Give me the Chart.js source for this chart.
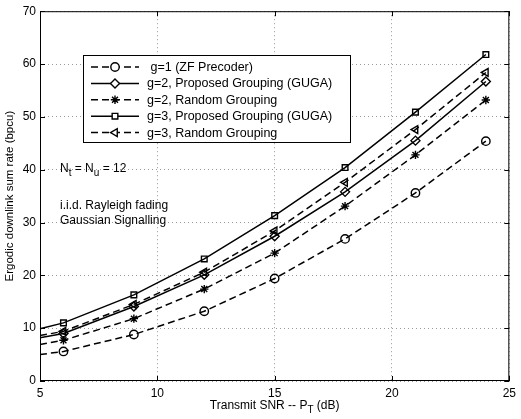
<!DOCTYPE html>
<html>
<head>
<meta charset="utf-8">
<script src="https://cdn.jsdelivr.net/npm/chart.js@4/dist/chart.umd.min.js"></script>
<style>
  html, body { margin: 0; padding: 0; background: #fff; }
  #wrap { width: 521px; height: 419px; position: relative; }
</style>
</head>
<body>
<div id="wrap"><canvas id="c" width="521" height="419"></canvas></div>
<script>
// ---- Data ----
const snrDb = [5, 6, 9, 12, 15, 18, 21, 24];           // x = 5 is the line's left edge (no marker)
const g1ZF        = [5.0, 5.6, 8.8, 13.2, 19.4, 26.9, 35.6, 45.4];
const g2GUGA      = [8.2, 9.0, 14.1, 20.1, 27.4, 35.8, 45.5, 56.7];
const g2Random    = [6.9, 7.7, 11.8, 17.4, 24.2, 33.1, 42.8, 53.2];
const g3GUGA      = [9.9, 11.0, 16.3, 23.1, 31.3, 40.4, 50.9, 61.8];
const g3Random    = [8.6, 9.4, 14.5, 20.6, 28.4, 37.6, 47.6, 58.4];
const seriesLabels = [' g=1 (ZF Precoder)', 'g=2, Proposed Grouping (GUGA)', 'g=2, Random Grouping',
                      'g=3, Proposed Grouping (GUGA)', 'g=3, Random Grouping'];
const xTicks = [5, 10, 15, 20, 25];
const yTicks = [0, 10, 20, 30, 40, 50, 60, 70];

const FONT = '"Liberation Sans", Arial, Helvetica, sans-serif';
const DASH = [7, 4];

function pts(vals) { return snrDb.map((x, i) => ({ x: x, y: vals[i] })); }
function radii(r) { return snrDb.map(x => x === 5 ? 0 : r); }

function ds(label, vals, style, dashed, r, rot) {
  return {
    label: label,
    data: pts(vals),
    borderColor: '#000',
    borderWidth: 1.5,
    borderDash: dashed ? DASH : [],
    pointStyle: style,
    pointRadius: radii(r),
    pointHoverRadius: radii(r),
    pointRotation: rot || 0,
    pointBorderColor: '#000',
    pointBackgroundColor: 'rgba(0,0,0,0)',
    pointBorderWidth: 1.4,
    tension: 0,
    fill: false,
    clip: false
  };
}

const datasets = [
  ds(seriesLabels[0], g1ZF, 'circle', true, 4.2),
  ds(seriesLabels[1], g2GUGA, 'rectRot', false, 4.5),
  ds(seriesLabels[2], g2Random, 'star', true, 4.2),
  ds(seriesLabels[3], g3GUGA, 'rect', false, 4),
  ds(seriesLabels[4], g3Random, 'triangle', true, 4.5, -90)
];

function drawSubText(ctx, parts, x, y, align, size) {
  const base = size + 'px ' + FONT, sub = (size - 2) + 'px ' + FONT;
  let w = 0;
  parts.forEach(p => { ctx.font = p[1] ? sub : base; w += ctx.measureText(p[0]).width; });
  let cx = align === 'center' ? x - w / 2 : x;
  ctx.textAlign = 'left';
  ctx.textBaseline = 'alphabetic';
  parts.forEach(p => {
    ctx.font = p[1] ? sub : base;
    ctx.fillText(p[0], cx, p[1] ? y + 4 : y);
    cx += ctx.measureText(p[0]).width;
  });
}

const overlay = {
  id: 'overlay',
  afterDraw(chart) {
    const ctx = chart.ctx, a = chart.chartArea;
    const xs = chart.scales.x, ys = chart.scales.y;
    ctx.save();
    ctx.strokeStyle = '#000';
    ctx.lineWidth = 1;
    ctx.setLineDash([]);
    ctx.strokeRect(a.left + 0.5, a.top + 0.5, a.right - a.left - 1, a.bottom - a.top - 1);
    ctx.beginPath();
    xTicks.forEach(v => {
      const px = Math.round(xs.getPixelForValue(v)) + 0.5;
      ctx.moveTo(px, a.bottom); ctx.lineTo(px, a.bottom - 5);
      ctx.moveTo(px, a.top); ctx.lineTo(px, a.top + 5);
    });
    yTicks.forEach(v => {
      const py = Math.round(ys.getPixelForValue(v)) + 0.5;
      ctx.moveTo(a.left, py); ctx.lineTo(a.left + 5, py);
      ctx.moveTo(a.right, py); ctx.lineTo(a.right - 5, py);
    });
    ctx.stroke();

    ctx.fillStyle = '#000';
    drawSubText(ctx, [['Transmit SNR -- P', false], ['T', true], [' (dB)', false]], (a.left + a.right) / 2, 409, 'center', 12);
    ctx.save();
    ctx.translate(13, (a.top + a.bottom) / 2);
    ctx.rotate(-Math.PI / 2);
    ctx.font = '11.5px ' + FONT;
    ctx.textAlign = 'center';
    ctx.textBaseline = 'alphabetic';
    ctx.fillText('Ergodic downlink sum rate (bpcu)', 0, 0);
    ctx.restore();

    drawSubText(ctx, [['N', false], ['t', true], [' = N', false], ['u', true], [' = 12', false]], 60, 172, 'left', 12);
    ctx.font = '12px ' + FONT;
    ctx.textAlign = 'left';
    ctx.fillText('i.i.d. Rayleigh fading', 60, 209);
    ctx.fillText('Gaussian Signalling', 60, 224);

    // legend
    const L = 83, T = 55, R = 350, B = 142;
    ctx.fillStyle = '#fff';
    ctx.fillRect(L, T, R - L, B - T);
    ctx.strokeStyle = '#000';
    ctx.lineWidth = 1;
    ctx.strokeRect(L + 0.5, T + 0.5, R - L, B - T);
    chart.data.datasets.forEach((d, i) => {
      const y = 67 + i * 16.4;
      ctx.strokeStyle = '#000';
      ctx.lineWidth = 1.5;
      ctx.setLineDash(d.borderDash);
      ctx.beginPath();
      ctx.moveTo(91, y); ctx.lineTo(139, y);
      ctx.stroke();
      ctx.setLineDash([]);
      ctx.fillStyle = '#fff';
      ctx.strokeStyle = '#000';
      ctx.lineWidth = 1.4;
      Chart.helpers.drawPoint(ctx, {
        pointStyle: d.pointStyle, radius: d.pointRadius[1], rotation: d.pointRotation,
        borderWidth: 1.4
      }, 115, y);
      ctx.fillStyle = '#000';
      ctx.font = '12.5px ' + FONT;
      ctx.textBaseline = 'middle';
      ctx.textAlign = 'left';
      ctx.fillText(d.label, 147, y + 0.5);
    });
    ctx.restore();
  }
};

new Chart(document.getElementById('c'), {
  type: 'line',
  data: { datasets: datasets },
  plugins: [overlay],
  options: {
    responsive: false,
    animation: false,
    events: [],
    layout: { padding: { top: 5, right: 6, left: 0, bottom: 0 } },
    plugins: { legend: { display: false }, tooltip: { enabled: false } },
    scales: {
      x: {
        type: 'linear', min: 5, max: 25,
        afterBuildTicks(s) { s.ticks = xTicks.map(v => ({ value: v })); },
        afterFit(s) { s.height = 38; },
        grid: { color: '#9a9a9a', lineWidth: 1, drawTicks: false },
        border: { display: false, dash: [1, 3] },
        ticks: { color: '#000', font: { family: FONT, size: 12 }, padding: 5, maxRotation: 0 }
      },
      y: {
        type: 'linear', min: 0, max: 70,
        afterBuildTicks(s) { s.ticks = yTicks.map(v => ({ value: v })); },
        afterFit(s) { s.width = 40; },
        grid: { color: '#9a9a9a', lineWidth: 1, drawTicks: false },
        border: { display: false, dash: [1, 3] },
        ticks: { color: '#000', font: { family: FONT, size: 12 }, padding: 4 }
      }
    }
  }
});
</script>
</body>
</html>
